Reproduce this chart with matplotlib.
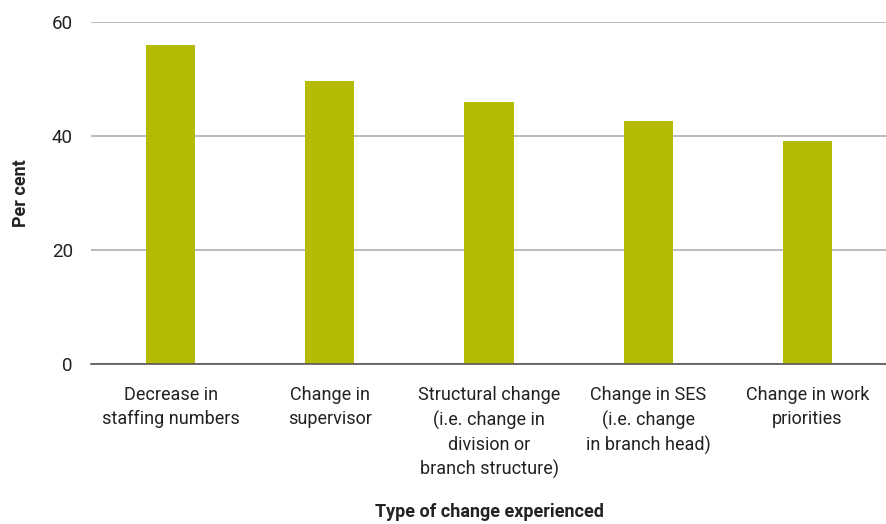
import matplotlib
matplotlib.use("Agg")
import matplotlib.pyplot as plt
from matplotlib import font_manager

names = {f.name for f in font_manager.fontManager.ttflist}
family = "Liberation Sans Narrow" if "Liberation Sans Narrow" in names else "Roboto"
plt.rcParams["font.family"] = [family, "DejaVu Sans"]

categories = [
    "Decrease in\nstaffing numbers",
    "Change in\nsupervisor",
    "Structural change\n(i.e. change in\ndivision or\nbranch structure)",
    "Change in SES\n(i.e. change\nin branch head)",
    "Change in work\npriorities",
]
values = [56.0, 49.7, 45.9, 42.6, 39.2]
yticks = [0, 20, 40, 60]

fig = plt.figure(figsize=(8.87, 5.24), dpi=100)
ax = fig.add_axes([0.1026, 0.3053, 0.8974, 0.6527])

x = range(len(categories))
ax.bar(x, values, width=0.31, color="#b3bb03", zorder=3)

ax.set_xlim(-0.5, 4.5)
ax.set_ylim(0, 60)
ax.set_yticks(yticks)
ax.set_xticks(list(x))
ax.set_xticklabels(categories, fontsize=13, color="#222222", linespacing=1.42)
ax.tick_params(axis="y", length=0, labelsize=13.5, labelcolor="#222222", pad=13)
ax.tick_params(axis="x", length=0, pad=16)

ax.grid(axis="y", color="#b0b0b0", linewidth=1.2, zorder=0)
for s in ["top", "right", "left"]:
    ax.spines[s].set_visible(False)
ax.spines["bottom"].set_color("#555555")
ax.spines["bottom"].set_linewidth(1.2)
ax.spines["bottom"].set_zorder(4)

ax.set_ylabel("Per cent", fontsize=13, fontweight="bold", color="#222222", labelpad=16)
ax.set_xlabel("Type of change experienced", fontsize=13, fontweight="bold",
              color="#222222", labelpad=17)

fig.savefig("out.png", dpi=100)
